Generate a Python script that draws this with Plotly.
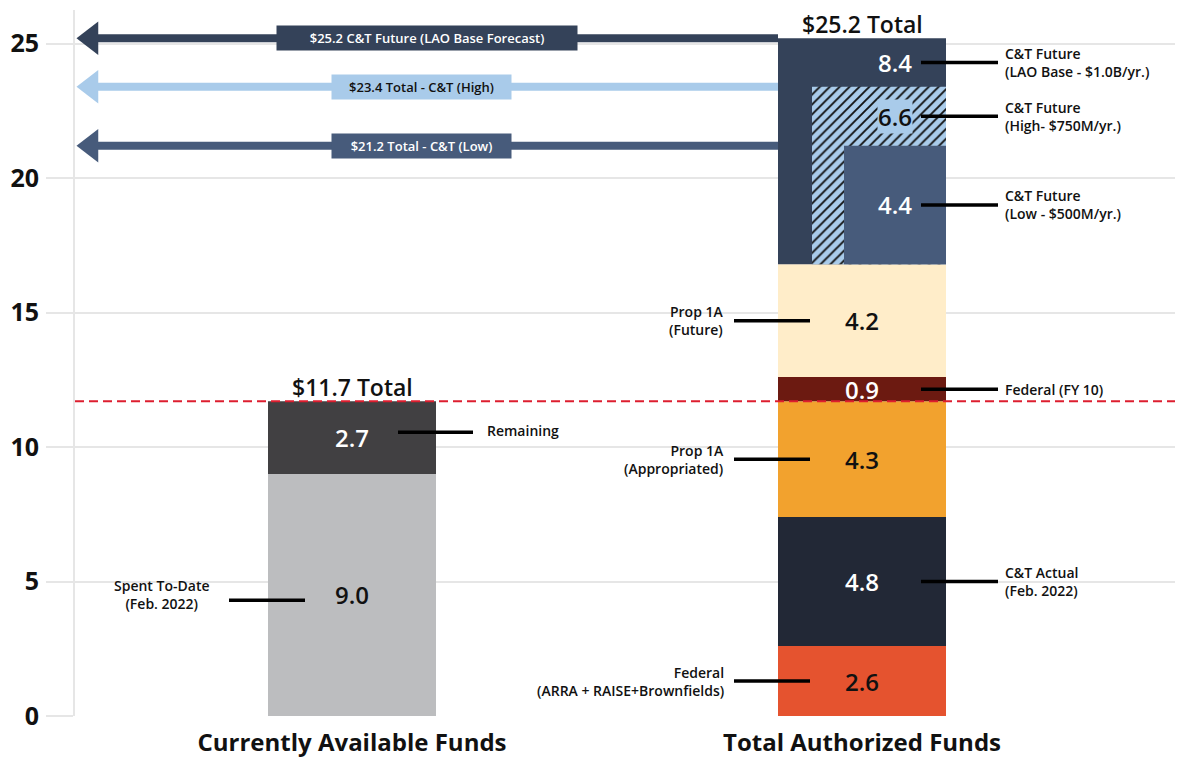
import plotly.graph_objects as go
import numpy as np

# ---- data (billions of dollars) ----
categories = ["Currently Available Funds", "Total Authorized Funds"]

available_labels = ["Spent To-Date<br>(Feb. 2022)", "Remaining"]
available_values = [9.0, 2.7]

authorized_labels = ["Federal<br>(ARRA + RAISE+Brownfields)", "C&T Actual<br>(Feb. 2022)",
                     "Prop 1A<br>(Appropriated)", "Federal (FY 10)", "Prop 1A<br>(Future)"]
authorized_values = [2.6, 4.8, 4.3, 0.9, 4.2]

future_labels = ["C&T Future<br>(LAO Base - $1.0B/yr.)", "C&T Future<br>(High- $750M/yr.)",
                 "C&T Future<br>(Low - $500M/yr.)"]
future_values = [8.4, 6.6, 4.4]
arrow_captions = ["C&T Future (LAO Base Forecast)", "Total - C&T (High)", "Total - C&T (Low)"]

y_ticks = [0, 5, 10, 15, 20, 25]

# ---- style ----
FONT = "Open Sans"
W = 600               # semibold
PX = 510.0            # pixels between the two category centres
BAR_W = 168 / PX
available_colors = ["#BCBDBF", "#414042"]
available_text = ["#111111", "white"]
authorized_colors = ["#E5532F", "#222836", "#F2A22E", "#6C1A11", "#FFEDC9"]
authorized_text = ["#111111", "white", "#111111", "white", "#111111"]
authorized_side = ["left", "right", "left", "right", "left"]
future_colors = ["#344259", "#A9CBEA", "#475B7B"]
future_text = ["white", "#111111", "white"]
future_offsets = [-84 / PX, -50 / PX, -18 / PX]
future_widths = [BAR_W, 134 / PX, 102 / PX]

fig = go.Figure()
annotations = []
shapes = []


def px(p):
    """pixel offset -> x data units"""
    return p / PX


def value_label(x, y, text, color, bg=None):
    annotations.append(dict(x=x, y=y, text=text, showarrow=False,
                            font=dict(family=FONT, size=24, color=color, weight=W),
                            bgcolor=bg, borderpad=0))


def leader(x0, x1, y):
    shapes.append(dict(type="line", xref="x", yref="y", x0=x0, x1=x1, y0=y, y1=y,
                       line=dict(color="black", width=3.5)))


def side_label(x, y, text, anchor, align):
    annotations.append(dict(x=x, y=y, text=text, showarrow=False,
                            xanchor=anchor, align=align,
                            font=dict(family=FONT, size=14, color="#111111", weight=W)))


# left bar
bases = np.concatenate([[0], np.cumsum(available_values)[:-1]])
for i, (v, b) in enumerate(zip(available_values, bases)):
    fig.add_trace(go.Bar(x=[0], y=[v], base=[b], width=[BAR_W], offset=[-BAR_W / 2],
                         marker=dict(color=available_colors[i], line=dict(width=0)),
                         showlegend=False, hoverinfo="skip"))
    value_label(0, b + v / 2, f"{v:.1f}", available_text[i])
available_total = sum(available_values)

# left bar callouts
leader(px(-123), px(-47), bases[0] + available_values[0] / 2 - 0.2)
side_label(px(-190), bases[0] + available_values[0] / 2, available_labels[0], "center", "center")
leader(px(46), px(121), bases[1] + available_values[1] / 2 + 0.2)
side_label(px(133), bases[1] + available_values[1] / 2 + 0.25, available_labels[1], "left", "left")

# right bar, authorized part
bases = np.concatenate([[0], np.cumsum(authorized_values)[:-1]])
for i, (v, b) in enumerate(zip(authorized_values, bases)):
    fig.add_trace(go.Bar(x=[1], y=[v], base=[b], width=[BAR_W], offset=[-BAR_W / 2],
                         marker=dict(color=authorized_colors[i], line=dict(width=0)),
                         showlegend=False, hoverinfo="skip"))
    mid = b + v / 2
    value_label(1, mid, f"{v:.1f}", authorized_text[i])
    if authorized_side[i] == "left":
        leader(1 + px(-128), 1 + px(-52), mid)
        side_label(1 + px(-136), mid, authorized_labels[i], "right", "right")
    else:
        leader(1 + px(59), 1 + px(136), mid)
        side_label(1 + px(141), mid, authorized_labels[i], "left", "left")

# right bar, future C&T scenarios (overlapping, largest first)
future_base = sum(authorized_values)
tops = [future_base + v for v in future_values]
for i, v in enumerate(future_values):
    pattern = None
    if i == 1:
        pattern = dict(shape="/", fgcolor="#111111", bgcolor=future_colors[i],
                       size=7, solidity=0.27, fillmode="replace")
    fig.add_trace(go.Bar(x=[1], y=[v], base=[future_base], width=[future_widths[i]],
                         offset=[future_offsets[i]],
                         marker=dict(color=future_colors[i], line=dict(width=0), pattern=pattern),
                         showlegend=False, hoverinfo="skip"))
    lower = tops[i + 1] if i + 1 < len(tops) else future_base
    mid = (lower + tops[i]) / 2
    value_label(1 + px(33), mid, f"{v:.1f}", future_text[i],
                bg=future_colors[i] if i == 1 else None)
    leader(1 + px(59), 1 + px(136), mid)
    side_label(1 + px(141), mid, future_labels[i], "left", "left")

# arrows pointing back to the axis
x_left = -277 / PX
for i, top in enumerate(tops):
    fig.add_trace(go.Scatter(x=[x_left + px(16), 1 - BAR_W / 2], y=[top, top], mode="lines",
                             line=dict(color=future_colors[i], width=8),
                             showlegend=False, hoverinfo="skip", cliponaxis=False))
    fig.add_trace(go.Scatter(x=[x_left + px(16)], y=[top], mode="markers",
                             marker=dict(symbol="triangle-left", size=29, color=future_colors[i]),
                             showlegend=False, hoverinfo="skip", cliponaxis=False))
    box_x = px(75) if i == 0 else px(69)
    box_w = 298 if i == 0 else 177
    annotations.append(dict(x=box_x, y=top, text=f"${top:.1f} {arrow_captions[i]}",
                            showarrow=False, width=box_w, height=22, bgcolor=future_colors[i],
                            font=dict(family=FONT, size=13, weight=W,
                                      color="#111111" if i == 1 else "white")))

# totals above each bar
for x, total in [(0, available_total), (1, max(tops))]:
    annotations.append(dict(x=x, y=total, text=f"${total:.1f} Total", showarrow=False,
                            yanchor="middle", yshift=14, height=24,
                            font=dict(family=FONT, size=23, color="#111111", weight=W)))

# dashed reference at the currently available total
shapes.append(dict(type="line", xref="paper", yref="y", x0=0, x1=1,
                   y0=available_total, y1=available_total, layer="above",
                   line=dict(color="#DD1E2F", width=2, dash="9px,5px")))

# the page body adds an 8px margin, so the figure is 8px smaller on each side
fig.update_layout(
    width=1175, height=749,
    margin=dict(l=67, r=0, t=2, b=41),
    plot_bgcolor="white", paper_bgcolor="white",
    barmode="overlay",
    font=dict(family=FONT, color="#111111"),
    annotations=annotations,
    shapes=shapes,
    xaxis=dict(range=[x_left, 1 + 321 / PX], tickvals=[0, 1], ticktext=categories,
               tickfont=dict(family=FONT, size=24, color="#111111", weight=700),
               showgrid=False, zeroline=False, showline=False, ticks="",
               automargin=False, ticklabelstandoff=10),
    yaxis=dict(range=[0, 26.25], tickvals=y_ticks,
               tickfont=dict(family=FONT, size=25, color="#111111", weight=700),
               showgrid=True, gridcolor="#E6E6E6", gridwidth=1.5, zeroline=False,
               showline=True, linecolor="#E6E6E6", linewidth=2,
               ticks="outside", ticklen=27, tickcolor="#E6E6E6", tickwidth=1.5,
               ticklabelstandoff=2, automargin=False),
)

fig.write_html("out.html")
